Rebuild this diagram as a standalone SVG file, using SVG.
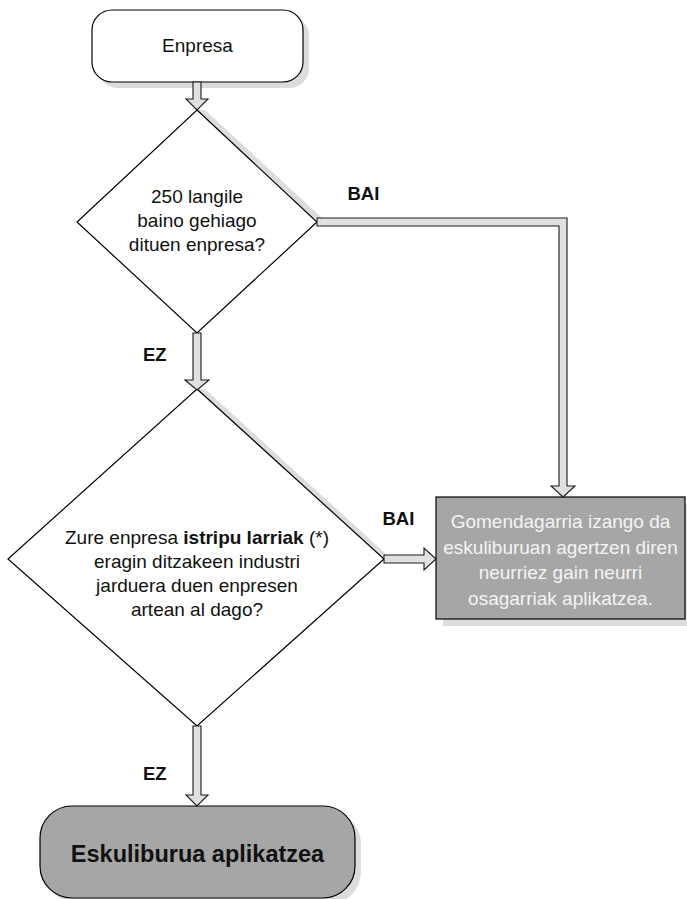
<svg xmlns="http://www.w3.org/2000/svg" width="687" height="899" viewBox="0 0 687 899">
<style>
  text { font-family: "Liberation Sans", Arial, sans-serif; }
  .shadow { fill: #dcdcdc; stroke: none; }
  .node { fill: #ffffff; stroke: #000000; stroke-width: 1.2; }
  .gray { fill: #a6a6a6; stroke: #000000; stroke-width: 1.2; }
  .conn { fill: #e0e0e0; stroke: #1a1a1a; stroke-width: 1.1; stroke-linejoin: miter; }
  .t { font-size: 19px; fill: #111111; text-anchor: middle; }
  .tw { font-size: 19px; fill: #f4f4f4; text-anchor: middle; }
  .lbl { font-size: 18.5px; font-weight: bold; fill: #111111; }
  .big { font-size: 23.5px; font-weight: bold; fill: #111111; text-anchor: middle; }
</style>
<rect width="687" height="899" fill="#ffffff"/>

<g id="node-enpresa">
  <rect class="shadow" x="98" y="16" width="211" height="72" rx="20" ry="20"/>
  <rect class="node" x="92" y="10" width="211" height="72" rx="20" ry="20"/>
  <text class="t" x="197.5" y="52">Enpresa</text>
</g>

<g id="node-decision1">
  <polygon class="shadow" points="197,110 205,110 322,218 314,218"/>
  <polygon class="node" points="197,110 317,222 197,333 77,222"/>
  <text class="t" x="197" y="203">250 langile</text>
  <text class="t" x="197" y="227">baino gehiago</text>
  <text class="t" x="197" y="251">dituen enpresa?</text>
</g>

<g id="node-decision2">
  <polygon class="shadow" points="197,389 205,389 387,555 379,555"/>
  <polygon class="node" points="197,389 384,559 197,726 8,559"/>
  <text class="t" x="197" y="544">Zure enpresa <tspan font-weight="bold">istripu larriak</tspan> (*)</text>
  <text class="t" x="197" y="568">eragin ditzakeen industri</text>
  <text class="t" x="197" y="592">jarduera duen enpresen</text>
  <text class="t" x="197" y="616">artean al dago?</text>
</g>

<g id="node-gomendagarria">
  <rect class="shadow" x="443" y="504" width="249" height="122"/>
  <rect class="gray" x="436" y="497" width="249" height="122"/>
  <text class="tw" x="560.5" y="528">Gomendagarria izango da</text>
  <text class="tw" x="560.5" y="553.5">eskuliburuan agertzen diren</text>
  <text class="tw" x="560.5" y="579">neurriez gain neurri</text>
  <text class="tw" x="560.5" y="604.5">osagarriak aplikatzea.</text>
</g>

<g id="node-eskuliburua">
  <rect class="shadow" x="46" y="812" width="315" height="92" rx="32" ry="32"/>
  <rect class="gray" x="40" y="806" width="315" height="92" rx="32" ry="32"/>
  <text class="big" x="197.5" y="861.5">Eskuliburua aplikatzea</text>
</g>

<g id="connectors">
  <polygon class="conn" points="193,82 201,82 201,99 208,99 197,110 186,99 193,99"/>
  <polygon class="conn" points="193,333 201,333 201,380 209,380 197,390 185,380 193,380"/>
  <polygon class="conn" points="317,218 567,218 567,486 575,486 563,497 551,486 559,486 559,226 317,226"/>
  <polygon class="conn" points="384,555 424,555 424,548 436,559 424,570 424,563 384,563"/>
  <polygon class="conn" points="193,726 201,726 201,795 208,795 197,806 186,795 193,795"/>
</g>

<g id="labels">
  <text class="lbl" x="347.5" y="200">BAI</text>
  <text class="lbl" x="143" y="361">EZ</text>
  <text class="lbl" x="382.5" y="525">BAI</text>
  <text class="lbl" x="143" y="780">EZ</text>
</g>
</svg>
